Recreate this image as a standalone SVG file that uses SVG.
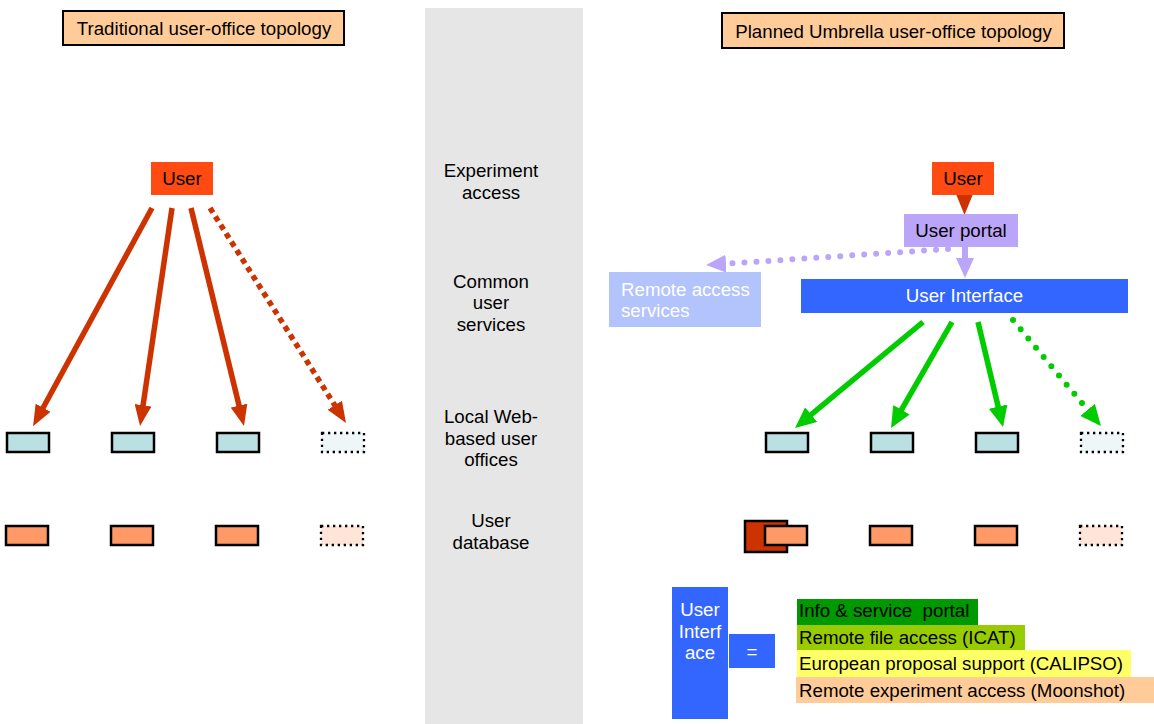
<svg xmlns="http://www.w3.org/2000/svg" width="1154" height="724" viewBox="0 0 1154 724">
<defs>
<style>
text{font-family:"Liberation Sans",Arial,sans-serif;font-size:18.7px;fill:#000}
.c{text-anchor:middle}
.w{fill:#fff}
.title{fill:#FFCC99;stroke:#000;stroke-width:2}
.office{fill:#BBE0E3;stroke:#000;stroke-width:2.5}
.db{fill:#FF9966;stroke:#000;stroke-width:2.5}
.officeD{fill:#EEF6F8;stroke:#000;stroke-width:2.3;stroke-dasharray:2.3 3.7}
.dbD{fill:#FFE5D7;stroke:#000;stroke-width:2.3;stroke-dasharray:2.3 3.7}
.red{stroke:#CC3300;stroke-width:5.5;fill:none}
.green{stroke:#00CC00;stroke-width:5.5;fill:none}
.lav{stroke:#BBA5F8;stroke-width:6;fill:none}
.dotR{stroke-dasharray:5.5 4.5}
.dotG{stroke-dasharray:0 12;stroke-linecap:round;stroke-width:6}
.dotL{stroke-dasharray:0 12;stroke-linecap:round;stroke-width:6}
</style>
<marker id="ahR" viewBox="0 0 21 17" refX="4" refY="8.5" markerWidth="21" markerHeight="17" markerUnits="userSpaceOnUse" orient="auto"><path d="M0,0 L21,8.5 L0,17 z" fill="#CC3300"/></marker>
<marker id="ahG" viewBox="0 0 21 19" refX="4" refY="9.5" markerWidth="21" markerHeight="19" markerUnits="userSpaceOnUse" orient="auto"><path d="M0,0 L21,9.5 L0,19 z" fill="#00CC00"/></marker>
<marker id="ahL" viewBox="0 0 20 18" refX="4" refY="9" markerWidth="20" markerHeight="18" markerUnits="userSpaceOnUse" orient="auto"><path d="M0,0 L20,9 L0,18 z" fill="#BBA5F8"/></marker>
</defs>
<rect width="1154" height="724" fill="#fff"/>

<g id="band">
<rect x="425" y="8" width="158" height="716" fill="#E6E6E6"/>
<text class="c" x="491" y="177">Experiment</text>
<text class="c" x="491" y="199">access</text>
<text class="c" x="491" y="288">Common</text>
<text class="c" x="491" y="309">user</text>
<text class="c" x="491" y="331">services</text>
<text class="c" x="491" y="423">Local Web-</text>
<text class="c" x="491" y="445">based user</text>
<text class="c" x="491" y="466">offices</text>
<text class="c" x="491" y="527">User</text>
<text class="c" x="491" y="549">database</text>
</g>

<g id="title-left">
<rect class="title" x="63" y="11" width="281" height="34"/>
<text class="c" x="204" y="35">Traditional user-office topology</text>
</g>
<g id="title-right">
<rect class="title" x="722" y="13" width="342" height="35"/>
<text class="c" x="893.5" y="38">Planned Umbrella user-office topology</text>
</g>

<g id="connectors">
<line class="red" x1="152" y1="208" x2="41.2" y2="411.2" marker-end="url(#ahR)"/>
<line class="red" x1="172" y1="208" x2="142.5" y2="409.2" marker-end="url(#ahR)"/>
<line class="red" x1="191" y1="208" x2="240" y2="409.5" marker-end="url(#ahR)"/>
<line class="red dotR" x1="210" y1="208" x2="336.9" y2="408.6" marker-end="url(#ahR)"/>
<line class="red" x1="964.5" y1="195" x2="964.5" y2="198" marker-end="url(#ahR)"/>
<line class="lav" x1="965" y1="247" x2="965" y2="262" marker-end="url(#ahL)"/>
<line class="lav dotL" x1="948" y1="249" x2="722" y2="264" marker-end="url(#ahL)"/>
<line class="green" x1="923" y1="322" x2="808.1" y2="417.2" marker-end="url(#ahG)"/>
<line class="green" x1="952" y1="322" x2="899.5" y2="413.2" marker-end="url(#ahG)"/>
<line class="green" x1="978" y1="322" x2="999.1" y2="410.5" marker-end="url(#ahG)"/>
<line class="green dotG" x1="1013" y1="320" x2="1090.1" y2="412.9" marker-end="url(#ahG)"/>
</g>

<g id="user-left">
<rect x="151" y="162" width="62" height="33" fill="#FF4A12"/>
<text class="c" x="182" y="185">User</text>
</g>

<g id="offices-left">
<rect class="office" x="7" y="433" width="42" height="19"/>
<rect class="office" x="112" y="433" width="42" height="19"/>
<rect class="office" x="217" y="433" width="42" height="19"/>
<rect class="officeD" x="322" y="433" width="42" height="19"/>
</g>
<g id="db-left">
<rect class="db" x="6" y="526" width="42" height="19"/>
<rect class="db" x="111" y="526" width="42" height="19"/>
<rect class="db" x="216" y="526" width="42" height="19"/>
<rect class="dbD" x="321" y="526" width="42" height="19"/>
</g>

<g id="user-right">
<rect x="932" y="162" width="62" height="33" fill="#FF4A12"/>
<text class="c" x="963" y="185">User</text>
</g>
<g id="user-portal">
<rect x="904" y="214" width="114" height="33" fill="#BBA5F8"/>
<text class="c" x="961" y="237">User portal</text>
</g>
<g id="remote-access">
<rect x="609" y="272" width="152" height="55" fill="#B3C3FC"/>
<text class="w" x="621" y="296">Remote access</text>
<text class="w" x="621" y="317">services</text>
</g>
<g id="user-interface">
<rect x="801" y="279" width="327" height="34" fill="#3366FF"/>
<text class="c w" x="964.5" y="302">User Interface</text>
</g>

<g id="offices-right">
<rect class="office" x="766" y="433" width="42" height="19"/>
<rect class="office" x="871" y="433" width="42" height="19"/>
<rect class="office" x="976" y="433" width="42" height="19"/>
<rect class="officeD" x="1081" y="433" width="42" height="19"/>
</g>
<g id="db-right">
<rect x="745" y="521" width="42" height="31" fill="#CC3300" stroke="#000" stroke-width="2.5"/>
<rect class="db" x="765" y="526" width="42" height="19"/>
<rect class="db" x="870" y="526" width="42" height="19"/>
<rect class="db" x="975" y="526" width="42" height="19"/>
<rect class="dbD" x="1080" y="526" width="42" height="19"/>
</g>

<g id="legend-ui">
<rect x="672" y="587" width="56" height="132" fill="#3366FF"/>
<text class="c w" x="700" y="616">User</text>
<text class="c w" x="700" y="638">Interf</text>
<text class="c w" x="700" y="659">ace</text>
</g>
<g id="legend-eq">
<rect x="729" y="634" width="46" height="34" fill="#3366FF"/>
<text class="c w" x="752" y="658">=</text>
</g>
<g id="legend-items">
<rect x="797" y="599" width="181" height="26" fill="#009900"/>
<rect x="797" y="625" width="228" height="25" fill="#99CC00"/>
<rect x="797" y="650" width="334" height="27" fill="#FFFF66"/>
<rect x="796" y="677" width="358" height="26" fill="#FFCC99"/>
<text x="799" y="617" style="white-space:pre">Info &amp; service  portal</text>
<text x="799" y="644">Remote file access (ICAT)</text>
<text x="799" y="670">European proposal support (CALIPSO)</text>
<text x="799" y="697">Remote experiment access (Moonshot)</text>
</g>
</svg>
